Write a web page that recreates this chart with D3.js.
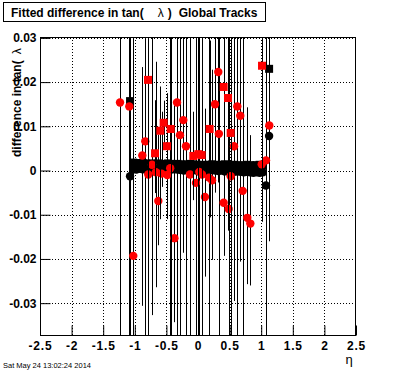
<!DOCTYPE html>
<html>
<head>
<meta charset="utf-8">
<script src="https://cdn.jsdelivr.net/npm/d3@7"></script>
<style>
  body { margin: 0; background: #fff; }
  svg { display: block; }
  text { font-family: "Liberation Sans", Arial, Helvetica, sans-serif; }
</style>
</head>
<body>
<svg id="chart" width="396" height="372"></svg>
<script>
// tick labels
var xTicks = [-2.5, -2, -1.5, -1, -0.5, 0, 0.5, 1, 1.5, 2, 2.5];
var yTicks = [-0.03, -0.02, -0.01, 0, 0.01, 0.02, 0.03];

// black squares
var blackSqEta = [-1.075,-1.025,-0.975,-0.925,-0.875,-0.825,-0.775,-0.725,-0.675,-0.625,-0.575,
  -0.525,-0.475,-0.425,-0.375,-0.325,-0.275,-0.225,-0.175,-0.125,-0.075,-0.025,0.025,0.075,
  0.125,0.175,0.225,0.275,0.325,0.375,0.425,0.475,0.525,0.575,0.625,0.675,0.725,0.775,0.825,
  0.875,0.925,0.975,1.025,1.125];
var blackSqVal = [0.0157,
  0.0018,0.0017,0.0016,0.0017,0.0016,0.0015,0.0016,0.0015,0.0016,0.0014,
  0.0015,0.0016,0.0015,0.0014,0.0015,0.0014,0.0013,0.0014,0.0015,0.0014,
  0.0013,0.0012,0.0013,0.0012,0.0013,0.0014,0.0013,0.0012,0.0013,0.0014,
  0.0013,0.0012,0.0013,0.0012,0.0011,0.0012,0.0013,0.0012,0.0011,0.0012,
  0.0013,0.0012,
  0.0230];
var blackSqErr = [0.07,
  0.0005,0.0004,0.0005,0.0004,0.0005,0.0004,0.0005,0.0004,0.0004,0.0005,
  0.0004,0.0005,0.0004,0.0004,0.0005,0.0004,0.0005,0.0004,0.0004,0.0005,
  0.0004,0.0005,0.0004,0.0004,0.0005,0.0004,0.0005,0.0004,0.0004,0.0005,
  0.0004,0.0005,0.0004,0.0004,0.0005,0.0004,0.0005,0.0004,0.0004,0.0005,
  0.0005,0.0005,
  0.039];

// black circles
var blackCircEta = [-1.075,-1.025,-0.975,-0.925,-0.875,-0.825,-0.775,-0.725,-0.675,-0.625,-0.575,
  -0.525,-0.475,-0.425,-0.375,-0.325,-0.275,-0.225,-0.175,-0.125,-0.075,-0.025,0.025,0.075,
  0.125,0.175,0.225,0.275,0.325,0.375,0.425,0.475,0.525,0.575,0.625,0.675,0.725,0.775,0.825,
  0.875,0.925,0.975,1.025,1.075,1.125];
var blackCircVal = [-0.0013,
  0.0003,0.0002,0.0004,0.0003,0.0002,0.0003,0.0002,0.0001,0.0002,0.0003,
  0.0002,0.0001,0.0002,0.0003,0.0002,0.0001,0.0000,0.0001,0.0002,0.0001,
  0.0000,0.0001,0.0000,-0.0001,0.0000,0.0001,0.0000,-0.0001,0.0000,-0.0002,
  -0.0001,-0.0002,-0.0003,-0.0002,-0.0003,-0.0004,-0.0003,-0.0004,-0.0005,-0.0004,
  -0.0005,-0.0004,
  -0.0034,0.0078];
var blackCircErr = [0.03,
  0.0004,0.0004,0.0005,0.0004,0.0004,0.0005,0.0004,0.0004,0.0005,0.0004,
  0.0004,0.0005,0.0004,0.0004,0.0005,0.0004,0.0004,0.0005,0.0004,0.0004,
  0.0005,0.0004,0.0004,0.0005,0.0004,0.0004,0.0005,0.0004,0.0004,0.0005,
  0.0004,0.0004,0.0005,0.0004,0.0004,0.0005,0.0004,0.0004,0.0005,0.0004,
  0.0004,0.0005,
  0.031,0.020];

// red circles
var redCircEta = [-1.234,-1.087,-1.024,-0.881,-0.834,-0.787,-0.728,-0.665,-0.628,-0.576,-0.486,
  -0.440,-0.373,-0.332,-0.285,-0.232,-0.190,-0.127,-0.032,0.020,0.063,0.110,0.174,0.222,
  0.269,0.321,0.330,0.406,0.485,0.517,0.570,0.622,0.669,0.707,0.780,0.828,1.008,1.076,1.128];
var redCircVal = [0.0154,0.0145,-0.0193,0.0034,0.0066,-0.0009,0.0013,-0.0004,-0.0069,-0.0007,-0.0010,
  0.0005,-0.0153,0.0154,0.0080,0.0114,0.0055,-0.0009,-0.0028,-0.0003,-0.0009,-0.0060,-0.0016,-0.0022,
  0.0150,0.0223,0.0083,-0.0073,-0.0087,-0.0013,0.0055,0.0145,0.0124,-0.0046,-0.0107,-0.0120,0.0014,0.0023,0.0102];
var redCircLo = [0.07,0.07,0.07,0.034,0.07,0.007,0.034,0.026,0.010,0.003,0.010,
  0.07,0.019,0.07,0.07,0.030,0.07,0.07,0.07,0.07,0.030,0.018,0.07,0.018,
  0.020,0.025,0.07,0.012,0.07,0.07,0.035,0.07,0.033,0.07,0.015,0.014,0.013,0.07,0.026];
var redCircHi = [0.07,0.07,0.07,0.020,0.07,0.005,0.030,0.025,0.015,0.014,0.016,
  0.07,0.030,0.07,0.07,0.020,0.07,0.07,0.07,0.07,0.07,0.020,0.07,0.025,
  0.020,0.010,0.07,0.020,0.07,0.07,0.030,0.07,0.030,0.07,0.025,0.020,0.040,0.07,0.010];

// red squares
var redSqEta = [-0.791,-0.680,-0.596,-0.543,-0.490,-0.432,-0.074,0.005,0.058,0.184,0.406,0.475,0.517,1.013];
var redSqVal = [0.0205,0.0039,0.0090,0.0108,0.0055,0.0094,0.0033,0.0037,0.0035,0.0094,0.0189,0.0164,0.0085,0.0237];
var redSqLo = [0.07,0.009,0.020,0.005,0.002,0.07,0.010,0.07,0.07,0.020,0.013,0.030,0.07,0.030];
var redSqHi = [0.07,0.012,0.010,0.005,0.012,0.07,0.010,0.07,0.07,0.020,0.025,0.030,0.07,0.010];

var frameL = 40, frameR = 356, frameT = 37, frameB = 335;

var x = d3.scaleLinear().domain([-2.5, 2.5]).range([frameL, frameR]);
var y = d3.scaleLinear().domain([-0.0372, 0.0302]).range([frameB, frameT]);

var svg = d3.select('#chart');

svg.append('defs').append('clipPath').attr('id', 'frame')
  .append('rect').attr('x', frameL).attr('y', frameT)
  .attr('width', frameR - frameL).attr('height', frameB - frameT);

// title box
svg.append('rect').attr('x', 3.5).attr('y', 2.5).attr('width', 262).attr('height', 19)
  .attr('fill', '#fff').attr('stroke', '#000');
var title = svg.append('text').attr('x', 11).attr('y', 16.5)
  .attr('font-size', 12).attr('font-weight', 'bold');
title.append('tspan').text('Fitted difference in tan(');
title.append('tspan').attr('dx', 14).attr('font-weight', 'normal').text('λ');
title.append('tspan').attr('dx', 4).text(')');
title.append('tspan').attr('dx', 7).text('Global Tracks');

// grid
var fmt = function(d) { return d === 0 ? '0' : String(+d.toFixed(3)); };
var grid = svg.append('g').attr('stroke', '#000').attr('stroke-dasharray', '1,2');
grid.selectAll('.gx').data(xTicks.filter(function(d) { return d > -2.5 && d < 2.5; }))
  .enter().append('line')
  .attr('x1', function(d) { return Math.round(x(d)) + 0.5; })
  .attr('x2', function(d) { return Math.round(x(d)) + 0.5; })
  .attr('y1', frameT).attr('y2', frameB);
grid.selectAll('.gy').data(yTicks).enter().append('line')
  .attr('x1', frameL).attr('x2', frameR)
  .attr('y1', function(d) { return Math.round(y(d)) + 0.5; })
  .attr('y2', function(d) { return Math.round(y(d)) + 0.5; });

// data
var plot = svg.append('g').attr('clip-path', 'url(#frame)');

function drawSeries(eta, val, lo, hi, shape, color) {
  var pts = eta.map(function(e, i) { return {e: e, v: val[i], lo: lo[i], hi: hi[i]}; });
  var g = plot.append('g');
  g.selectAll('line').data(pts).enter().append('line')
    .attr('x1', function(d) { return Math.round(x(d.e)) + 0.5; })
    .attr('x2', function(d) { return Math.round(x(d.e)) + 0.5; })
    .attr('y1', function(d) { return y(d.v + d.hi); })
    .attr('y2', function(d) { return y(d.v - d.lo); })
    .attr('stroke', '#000').attr('stroke-width', 1);
  if (shape === 'square') {
    g.selectAll('rect').data(pts).enter().append('rect')
      .attr('x', function(d) { return x(d.e) - 4; })
      .attr('y', function(d) { return y(d.v) - 4; })
      .attr('width', 8).attr('height', 8)
      .attr('fill', color);
  } else {
    g.selectAll('circle').data(pts).enter().append('circle')
      .attr('cx', function(d) { return x(d.e); })
      .attr('cy', function(d) { return y(d.v); })
      .attr('r', 4.2)
      .attr('fill', color);
  }
}

drawSeries(blackSqEta, blackSqVal, blackSqErr, blackSqErr, 'square', '#000');
drawSeries(blackCircEta, blackCircVal, blackCircErr, blackCircErr, 'circle', '#000');
drawSeries(redCircEta, redCircVal, redCircLo, redCircHi, 'circle', '#f00');
drawSeries(redSqEta, redSqVal, redSqLo, redSqHi, 'square', '#f00');

// frame
svg.append('rect').attr('x', frameL + 0.5).attr('y', frameT + 0.5)
  .attr('width', frameR - frameL - 1).attr('height', frameB - frameT)
  .attr('fill', 'none').attr('stroke', '#000');

// axes
var xMinor = d3.range(-2.5, 2.5001, 0.1);
var yMinor = d3.range(-0.036, 0.0301, 0.002);

var xAxisG = svg.append('g').attr('transform', 'translate(0,' + (frameB + 0.5) + ')');
xAxisG.call(d3.axisBottom(x).tickValues(xMinor).tickSize(-5).tickFormat(''));
xAxisG.call(d3.axisBottom(x).tickValues(xTicks).tickSize(-10).tickPadding(6).tickFormat(fmt));
xAxisG.selectAll('.domain').remove();
xAxisG.selectAll('text').attr('font-size', 12).attr('font-weight', 'bold')
  .attr('font-family', '"Liberation Sans", Arial, sans-serif')
  .attr('letter-spacing', 0.8).attr('fill', '#000');

var yAxisG = svg.append('g').attr('transform', 'translate(' + (frameL + 0.5) + ',0)');
yAxisG.call(d3.axisLeft(y).tickValues(yMinor).tickSize(-5).tickFormat(''));
yAxisG.call(d3.axisLeft(y).tickValues(yTicks).tickSize(-10).tickPadding(4).tickFormat(fmt));
yAxisG.selectAll('.domain').remove();
yAxisG.selectAll('text').attr('font-size', 12).attr('font-weight', 'bold')
  .attr('font-family', '"Liberation Sans", Arial, sans-serif').attr('fill', '#000');
svg.selectAll('.tick line').attr('stroke', '#000');

// axis titles
var yTitle = svg.append('text')
  .attr('transform', 'translate(21,157) rotate(-90)')
  .attr('font-size', 12).attr('font-weight', 'bold');
yTitle.append('tspan').text('difference in tan(');
yTitle.append('tspan').attr('dx', 6).attr('font-weight', 'normal').text('λ');

svg.append('text').attr('x', 349).attr('y', 364).attr('text-anchor', 'middle')
  .attr('font-size', 13).text('η');

svg.append('text').attr('x', 3).attr('y', 368).attr('font-size', 7.5)
  .text('Sat May 24 13:02:24 2014');
</script>
</body>
</html>
